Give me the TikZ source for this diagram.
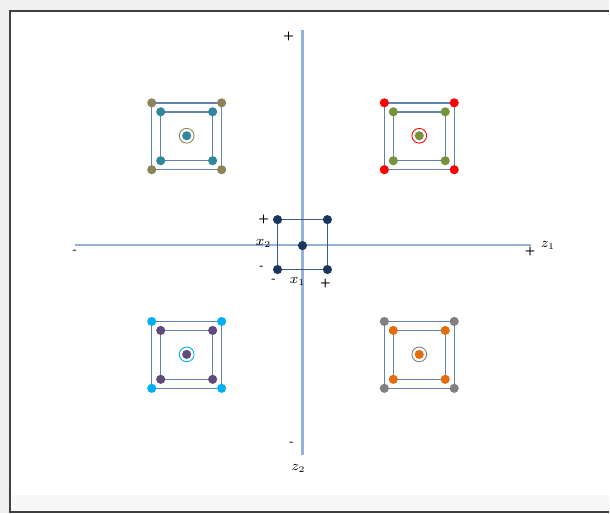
\documentclass[tikz,border=0pt]{standalone}
\usepackage{tikz}
\usepackage{xcolor}
\usepackage{amsmath}
\usetikzlibrary{backgrounds}
\definecolor{axisblue}{HTML}{95B3D7}
\definecolor{boxblue}{HTML}{6282B4}
\definecolor{navy}{HTML}{1B365D}
\definecolor{olivebrown}{HTML}{8C8456}
\definecolor{tealdot}{HTML}{31859C}
\definecolor{greendot}{HTML}{76923C}
\definecolor{cyandot}{HTML}{00B0F0}
\definecolor{purpledot}{HTML}{604A7B}
\definecolor{graydot}{HTML}{808080}
\definecolor{orangedot}{HTML}{E46C0A}
\definecolor{reddot}{HTML}{FF0000}

\begin{document}
\begin{tikzpicture}[x=0.02cm, y=-0.02cm,
    dot/.style={circle, fill=#1, inner sep=0pt, minimum size=5.2pt},
    ring/.style={circle, draw=#1, line width=0.5pt, inner sep=0pt, minimum size=8.4pt},
    axisline/.style={axisblue, line width=1.2pt},
    boxline/.style={boxblue, line width=0.8pt},
    sign/.style={font=\scriptsize\sffamily\bfseries, inner sep=1pt},
    axlabel/.style={font=\footnotesize, inner sep=1pt}]

     \node[sign] (hminus) at (75,252) {-};
     \node[sign] (hplus) at (531,252) {+};
     \node[axlabel] (z1) at (549,246) {$z_{\scriptscriptstyle 1}$};
     \node[sign] (vplus) at (289,36) {+};
     \node[sign] (vminus) at (292,445) {-};
     \node[axlabel] (z2) at (299,469) {$z_{\scriptscriptstyle 2}$};

     \node[dot=navy] (x-tl) at (278,220) {};
     \node[dot=navy] (x-tr) at (328,220) {};
     \node[dot=navy] (x-bl) at (278,270) {};
     \node[dot=navy] (x-br) at (328,270) {};
     \node[dot=navy] (x-c) at (303,246) {};

     \node[sign] (x2plus) at (264,220) {+};
     \node[sign] (x2minus) at (262,268) {-};
     \node[sign] (x1minus) at (274,281) {-};
     \node[sign] (x1plus) at (326,284) {+};
     \node[axlabel] (x2) at (264,244) {$x_{\scriptscriptstyle 2}$};
     \node[axlabel] (x1) at (298,282) {$x_{\scriptscriptstyle 1}$};

     \begin{scope}[on background layer]
       \fill[gray!12] (0,0) rectangle (610,514);
       \fill[white] (10,11) rectangle (610,513);
       \fill[gray!6] (12,496) rectangle (610,511);
       \draw[black!75, line width=1.2pt] (610,11) -- (10,11) -- (10,513) -- (610,513);

       \coordinate (h-left) at (75,245);
       \coordinate (h-right) at (532,245);
       \coordinate (v-top) at (303,30);
       \coordinate (v-bot) at (303,456);
       \draw[axisline] (h-left) -- (h-right);
       \draw[axisline] (v-top) -- (v-bot);

       \draw[boxline, draw=navy!50!boxblue] (x-tl.center) -- (x-tr.center)
         -- (x-br.center) -- (x-bl.center) -- cycle;
     \end{scope}

     \foreach \g/\cx/\cy/\oc/\ic in {a/187/136/olivebrown/tealdot,
                                     b/420/136/reddot/greendot,
                                     c/187/355/cyandot/purpledot,
                                     d/420/355/graydot/orangedot} {
       \node[dot=\oc] (\g-o1) at (\cx-35,\cy-33) {};
       \node[dot=\oc] (\g-o2) at (\cx+35,\cy-33) {};
       \node[dot=\oc] (\g-o3) at (\cx+35,\cy+34) {};
       \node[dot=\oc] (\g-o4) at (\cx-35,\cy+34) {};
       \node[dot=\ic] (\g-i1) at (\cx-26,\cy-24) {};
       \node[dot=\ic] (\g-i2) at (\cx+26,\cy-24) {};
       \node[dot=\ic] (\g-i3) at (\cx+26,\cy+25) {};
       \node[dot=\ic] (\g-i4) at (\cx-26,\cy+25) {};
       \node[dot=\ic] (\g-c) at (\cx,\cy) {};
       \node[ring=\oc] (\g-r) at (\cx,\cy) {};
       \begin{scope}[on background layer]
         \draw[boxline] (\g-o1.center) -- (\g-o2.center) -- (\g-o3.center)
           -- (\g-o4.center) -- cycle;
         \draw[boxline] (\g-i1.center) -- (\g-i2.center) -- (\g-i3.center)
           -- (\g-i4.center) -- cycle;
       \end{scope}
     }
   \end{tikzpicture}
\end{document}
